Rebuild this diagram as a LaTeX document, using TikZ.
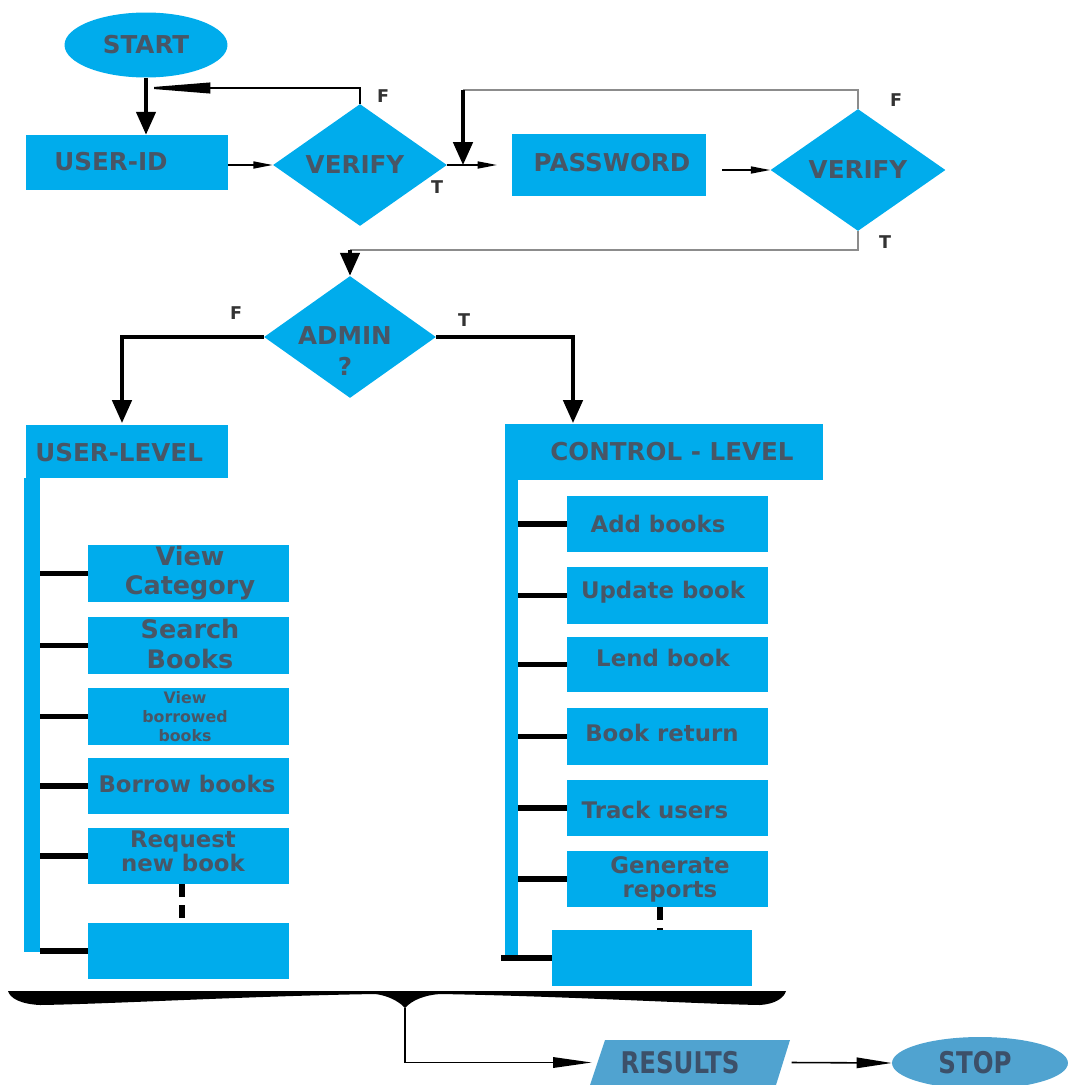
\documentclass[tikz,border=0pt]{standalone}
\usepackage{fontspec}
\setmainfont{DejaVu Sans}
\newfontfamily\condfont[FakeStretch=0.82]{DejaVu Sans}
\usetikzlibrary{shapes.geometric,arrows.meta,fit}
\definecolor{cy}{RGB}{0,172,236}
\definecolor{sb}{RGB}{80,163,208}
\definecolor{tx}{RGB}{72,86,102}
\definecolor{tx2}{RGB}{60,80,105}
\begin{document}
\begin{tikzpicture}[x=0.02cm,y=-0.02cm,
  box/.style={fill=cy, inner sep=0pt},
  lbl/.style={font=\bfseries\fontsize{13}{15}\selectfont, text=tx, align=center, inner sep=0pt},
  big/.style={font=\bfseries\fontsize{14}{17}\selectfont, text=tx, align=center, inner sep=0pt},
  tf/.style={font=\bfseries\fontsize{10}{12}\selectfont, text=black!80, inner sep=0pt},
  thickarr/.style={line width=2pt, -{Triangle[width=11pt,length=13pt]}},
  thinarr/.style={line width=0.9pt, -{Triangle[width=4pt,length=11pt]}},
  grayline/.style={line width=0.6pt, draw=black!45},
  conn/.style={line width=3pt},
  dotconn/.style={line width=3.5pt, dash pattern=on 7pt off 5pt},
  dia/.style={diamond, fill=cy, inner sep=0pt}
]
\useasboundingbox (0,0) rectangle (1069,1085);

% ---- top row ----
\node[ellipse, fill=cy, minimum width=3.26cm, minimum height=1.3cm, inner sep=0pt] (start) at (146,45) {};
\node[big] (tstart) at (146,45) {START};

\node[box, fit={(26,135) (228,190)}] (uid) {};
\node[big] (tuid) at (111,162) {USER-ID};

\node[dia, minimum width=3.48cm, minimum height=2.44cm] (v1) at (360,165) {};
\node[big] (tv1) at (355,165) {VERIFY};

\node[box, fit={(512,134) (706,196)}] (pw) {};
\node[big] (tpw) at (612,163) {PASSWORD};

\node[dia, minimum width=3.5cm, minimum height=2.44cm] (v2) at (858,170) {};
\node[big] (tv2) at (858,170) {VERIFY};

\node[dia, minimum width=3.44cm, minimum height=2.44cm] (adm) at (350,337) {};
\node[big, font=\bfseries\fontsize{14}{18}\selectfont] (tadm) at (345,351) {ADMIN\\?};

% labels F/T
\node[tf] (f1) at (383,96) {F};
\node[tf] (t1) at (437,187) {T};
\node[tf] (f2) at (896,100) {F};
\node[tf] (t2) at (885,242) {T};
\node[tf] (f3) at (236,313) {F};
\node[tf] (t3) at (464,320) {T};

% coordinates
\coordinate (fl1) at (140,88);
\coordinate (pin) at (497,165);
\coordinate (lp1) at (463,90);
\coordinate (lp2) at (463,165);
\coordinate (tl1) at (350,250);
\coordinate (ularr) at (122,423);
\coordinate (clarr) at (573,423);

% top connectors
\draw[thickarr] (start.south) -- (start.south |- uid.north);
\draw[line width=1.2pt, -{Triangle[length=40pt,width=6pt]}] (v1.north) |- (fl1);
\draw[thinarr] (v1.west -| uid.east) -- (v1.west);
\draw[thinarr] (v1.east) -- (pin);
\draw[grayline] (v2.north) |- (lp1);
\draw[thickarr] (lp1) -- (lp2);
\draw[thinarr, shorten <=9pt] (v2.west -| pw.east) -- (v2.west);
\draw[grayline] (v2.south) |- (tl1);
\draw[thickarr] (tl1) -- (adm.north);
\draw[thickarr] (adm.west) -| (ularr);
\draw[thickarr] (adm.east) -| (clarr);

% ---- user level ----
\node[box, fit={(26,425) (228,478)}] (ulev) {};
\node[big, anchor=west] (tulev) at (35,453) {USER-LEVEL};
\node[box, fit={(24,478) (40,952)}] (lbar) {};

\node[box, fit={(88,545) (289,602)}] (lc1) {};
\node[box, fit={(88,617) (289,674)}] (lc2) {};
\node[box, fit={(88,688) (289,745)}] (lc3) {};
\node[box, fit={(88,758) (289,814)}] (lc4) {};
\node[box, fit={(88,828) (289,884)}] (lc5) {};
\node[box, fit={(88,923) (289,979)}] (lc6) {};
\node[big, font=\bfseries\fontsize{14.5}{17}\selectfont] at (190,573) {View\\Category};
\node[big, font=\bfseries\fontsize{14.5}{17}\selectfont] at (190,644) {Search\\Books};
\node[lbl, font=\bfseries\fontsize{9}{10.8}\selectfont] at (185,717) {View\\borrowed\\books};
\node[lbl] at (187,784) {Borrow books};
\node[lbl, font=\bfseries\fontsize{13}{13.6}\selectfont] at (183,851) {Request\\new book};

\foreach \n in {lc1,lc2,lc3,lc4,lc5,lc6}
  \draw[conn] (\n.west) -- (\n.west -| lbar.east);
\draw[dotconn] (lc5.south -| 182,0) -- (lc6.north -| 182,0);

% ---- control level ----
\node[box, fit={(505,424) (823,480)}] (clev) {};
\node[big] (tclev) at (672,452) {CONTROL - LEVEL};
\node[box, fit={(505,480) (518,955)}] (rbar) {};

\node[box, fit={(567,496) (768,552)}] (rc1) {};
\node[box, fit={(567,567) (768,624)}] (rc2) {};
\node[box, fit={(567,637) (768,692)}] (rc3) {};
\node[box, fit={(567,708) (768,765)}] (rc4) {};
\node[box, fit={(567,780) (768,836)}] (rc5) {};
\node[box, fit={(567,851) (768,907)}] (rc6) {};
\node[box, fit={(552,930) (752,986)}] (rc7) {};
\node[lbl] at (658,524) {Add books};
\node[lbl] at (663,592) {Update book};
\node[lbl] at (663,658) {Lend book};
\node[lbl] at (662,733) {Book return};
\node[lbl] at (655,810) {Track users};
\node[lbl, font=\bfseries\fontsize{13}{13.6}\selectfont] at (670,879) {Generate\\reports};

\foreach \n in {rc1,rc2,rc3,rc4,rc5,rc6}
  \draw[conn] (\n.west) -- (\n.west -| rbar.east);
\draw[conn] (rc7.west) -- ([xshift=-2pt]rc7.west -| rbar.west);
\draw[dotconn] (rc6.south -| 660,0) -- (rc7.north -| 660,0);

% ---- brace ----
\fill[black] (8,991) -- (786,991) .. controls (784,998) and (775,1004) .. (760,1005)
  .. controls (700,1004) and (560,996) .. (440,994)
  .. controls (425,995) and (412,1000) .. (405,1008)
  .. controls (398,1000) and (385,995) .. (375,994)
  .. controls (250,996) and (110,1004) .. (40,1005)
  .. controls (20,1004) and (10,998) .. cycle;
\coordinate (bt) at (405,1008);

% ---- results / stop ----
\fill[sb] (605,1040) -- (790,1040) -- (776,1085) -- (590,1085) -- cycle;
\node[fit={(592,1040) (788,1085)}, inner sep=0pt] (results) {};
\node[font=\condfont\bfseries\fontsize{17}{20}\selectfont, text=tx2, inner sep=0pt] at (680,1063) {RESULTS};
\node[ellipse, fill=sb, minimum width=3.52cm, minimum height=1.04cm, inner sep=0pt] (stop) at (980,1063) {};
\node[font=\condfont\bfseries\fontsize{17}{20}\selectfont, text=tx2, inner sep=0pt] at (975,1063) {STOP};

\draw[line width=0.9pt, -{Triangle[width=6pt,length=22pt]}] (bt) |- (results.west);
\draw[line width=0.9pt, -{Triangle[width=6pt,length=20pt]}] (results.east -| stop.west) ++(-100,0) -- (stop.west);
\end{tikzpicture}
\end{document}
